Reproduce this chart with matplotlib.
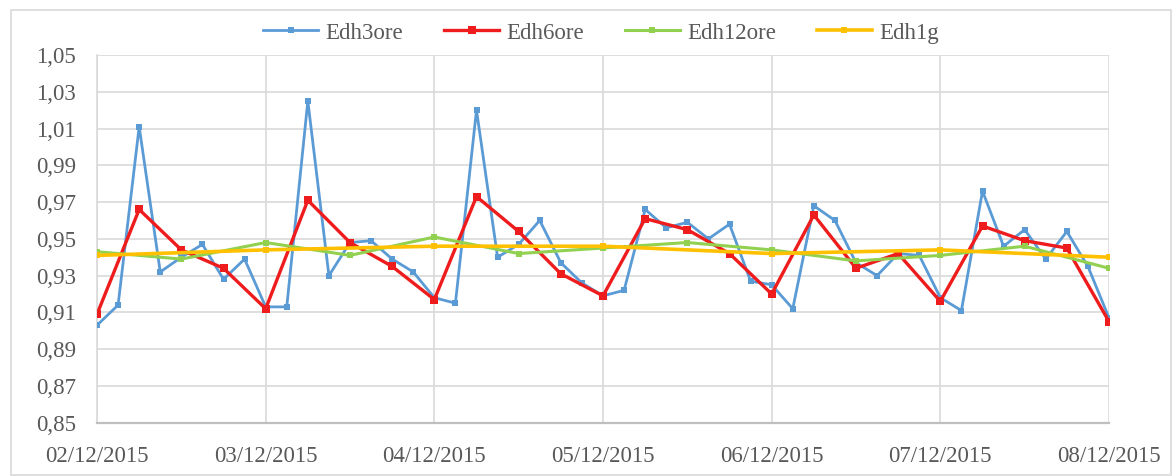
import matplotlib
matplotlib.use("Agg")
import matplotlib.pyplot as plt
import numpy as np
import pandas as pd
from matplotlib.patches import Rectangle
from matplotlib.ticker import FixedLocator, FuncFormatter

# Efficiency series sampled at different intervals (02/12/2015 - 08/12/2015)
edh3ore = [0.903, 0.914, 1.011, 0.932, 0.940, 0.947, 0.928, 0.939,
           0.913, 0.913, 1.025, 0.930, 0.948, 0.949, 0.939, 0.932,
           0.918, 0.915, 1.020, 0.940, 0.947, 0.960, 0.937, 0.926,
           0.919, 0.922, 0.966, 0.956, 0.959, 0.950, 0.958, 0.927,
           0.925, 0.912, 0.968, 0.960, 0.937, 0.930, 0.942, 0.941,
           0.918, 0.911, 0.976, 0.946, 0.955, 0.939, 0.954, 0.935,
           0.907]
edh6ore = [0.909, 0.966, 0.944, 0.934, 0.912, 0.971, 0.948, 0.935,
           0.917, 0.973, 0.954, 0.931, 0.919, 0.961, 0.955, 0.942,
           0.920, 0.963, 0.934, 0.942, 0.916, 0.957, 0.949, 0.945,
           0.905]
edh12ore = [0.943, 0.939, 0.948, 0.941, 0.951, 0.942, 0.945, 0.948,
            0.944, 0.938, 0.941, 0.946, 0.934]
edh1g = [0.941, 0.944, 0.946, 0.946, 0.942, 0.944, 0.940]

series_names = ["Edh3ore", "Edh6ore", "Edh12ore", "Edh1g"]
series_freq = ["3h", "6h", "12h", "24h"]
y_ticks = [0.85, 0.87, 0.89, 0.91, 0.93, 0.95, 0.97, 0.99, 1.01, 1.03, 1.05]
start, end = "2015-12-02", "2015-12-08"

colors = ["#5b9bd5", "#ee1c1c", "#92d050", "#ffc000"]
widths = [2.0, 2.4, 2.2, 2.6]
msizes = [4.0, 5.5, 4.5, 4.5]

serif = ["Liberation Serif", "DejaVu Serif"]
plt.rcParams["font.family"] = serif
text_color = "#595959"
label_size = 16.5

fig = plt.figure(figsize=(11.76, 4.76), dpi=100)
fig.patch.set_facecolor("white")
fig.patches.append(Rectangle((11 / 1176, 1 / 476), 1160 / 1176, 465 / 476,
                             transform=fig.transFigure, fill=False,
                             edgecolor="#d9d9d9", linewidth=1.2))

ax = fig.add_axes([97 / 1176, 1 - 422.7 / 476, (1109 - 97) / 1176, (422.7 - 55) / 476])

all_values = [edh3ore, edh6ore, edh12ore, edh1g]
for name, freq, vals, c, lw, ms in zip(series_names, series_freq, all_values,
                                       colors, widths, msizes):
    x = pd.date_range(start, end, freq=freq)
    ax.plot(x, vals, color=c, linewidth=lw, marker="s", markersize=ms,
            markeredgewidth=0, label=name, zorder=3)

days = pd.date_range(start, end, freq="D")
ax.set_xlim(days[0], days[-1])
ax.set_xticks(days)
ax.set_xticklabels([d.strftime("%d/%m/%Y") for d in days], family=serif)
ax.set_ylim(y_ticks[0], y_ticks[-1])
ax.yaxis.set_major_locator(FixedLocator(y_ticks))
ax.yaxis.set_major_formatter(FuncFormatter(lambda v, p: f"{v:.2f}".replace(".", ",")))

ax.grid(True, color="#d9d9d9", linewidth=1.2, zorder=0)
ax.set_axisbelow(True)
for side in ["top", "right"]:
    ax.spines[side].set_visible(False)
ax.spines["left"].set_color("#d9d9d9")
ax.spines["left"].set_linewidth(1.2)
ax.spines["bottom"].set_color("#bfbfbf")
ax.spines["bottom"].set_linewidth(1.6)

ax.tick_params(axis="both", length=0, labelsize=label_size, labelcolor=text_color)
ax.tick_params(axis="y", pad=15)
ax.tick_params(axis="x", pad=17)
for lbl in ax.get_yticklabels():
    lbl.set_family(serif)

leg = fig.legend(loc="center", bbox_to_anchor=(0.511, 1 - 33 / 476), ncol=4,
                 frameon=False, prop={"family": serif, "size": label_size},
                 handlelength=2.4, handletextpad=0.3, columnspacing=1.8)
for t in leg.get_texts():
    t.set_color(text_color)

fig.savefig("out.png", dpi=100, facecolor="white")
